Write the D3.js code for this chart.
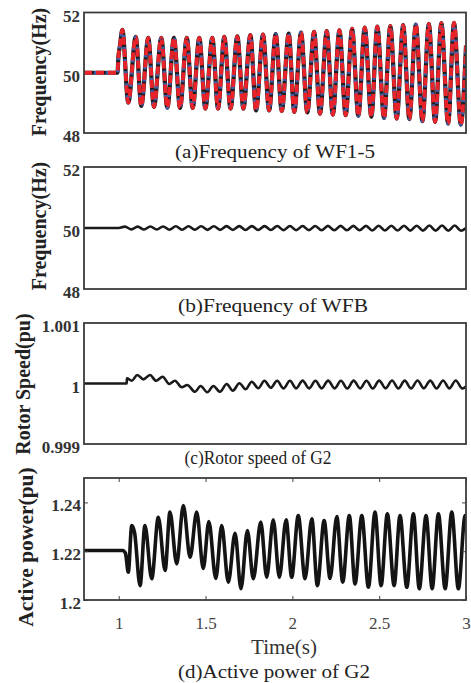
<!DOCTYPE html>
<html><head><meta charset="utf-8">
<script src="https://cdn.jsdelivr.net/npm/d3@7"></script>
<style>html,body{margin:0;padding:0;background:#fff;} svg{display:block;}</style>
</head><body>
<svg id="chart" width="471" height="683"></svg>
<script>
// ---------------- DATA ----------------
// (a) Frequency of WF1-5 (Hz) — extrema
const wfTime = [0.8, 0.993, 0.998, 1.007, 1.021, 1.055, 1.098, 1.130, 1.170, 1.203, 1.245, 1.280, 1.318, 1.353, 1.392, 1.426, 1.464, 1.499, 1.539, 1.572, 1.608, 1.644, 1.683, 1.718, 1.758, 1.791, 1.831, 1.866, 1.904, 1.939, 1.979, 2.011, 2.050, 2.086, 2.125, 2.159, 2.198, 2.233, 2.271, 2.307, 2.344, 2.380, 2.417, 2.455, 2.489, 2.528, 2.564, 2.601, 2.638, 2.674, 2.711, 2.749, 2.786, 2.822, 2.858, 2.897, 2.931, 2.970, 3.0];
const wfFreq = [50, 50, 50.5, 50.9, 51.42, 49.01, 51.19, 48.90, 51.16, 48.87, 51.16, 48.84, 51.16, 48.83, 51.16, 48.83, 51.16, 48.81, 51.16, 48.81, 51.19, 48.81, 51.21, 48.81, 51.25, 48.75, 51.27, 48.75, 51.28, 48.73, 51.30, 48.70, 51.33, 48.68, 51.36, 48.64, 51.38, 48.61, 51.41, 48.59, 51.46, 48.57, 51.50, 48.54, 51.53, 48.50, 51.55, 48.48, 51.58, 48.46, 51.60, 48.39, 51.62, 48.37, 51.65, 48.31, 51.66, 48.28, 50.9];

// (b) Frequency of WFB (Hz)
const wfbTime = [0.8, 1.0, 1.036, 1.073, 1.109, 1.146, 1.182, 1.219, 1.255, 1.292, 1.329, 1.365, 1.402, 1.438, 1.475, 1.511, 1.548, 1.584, 1.621, 1.657, 1.694, 1.730, 1.767, 1.803, 1.840, 1.876, 1.913, 1.949, 1.986, 2.022, 2.059, 2.095, 2.132, 2.168, 2.205, 2.241, 2.278, 2.314, 2.351, 2.387, 2.424, 2.460, 2.497, 2.533, 2.570, 2.606, 2.643, 2.679, 2.716, 2.752, 2.789, 2.825, 2.862, 2.898, 2.935, 2.971, 3.0];
const wfbFreq = [50, 50, 50.045, 49.955, 50.045, 49.95, 50.05, 49.95, 50.05, 49.945, 50.055, 49.945, 50.055, 49.945, 50.055, 49.94, 50.055, 49.94, 50.06, 49.94, 50.06, 49.935, 50.06, 49.935, 50.06, 49.935, 50.065, 49.93, 50.065, 49.93, 50.065, 49.93, 50.065, 49.925, 50.07, 49.925, 50.07, 49.925, 50.07, 49.925, 50.07, 49.92, 50.075, 49.92, 50.075, 49.92, 50.075, 49.915, 50.075, 49.915, 50.08, 49.915, 50.08, 49.91, 50.08, 49.91, 50.0];

// (c) Rotor speed of G2 (pu)
const g2Time = [0.8, 1.046, 1.047, 1.075, 1.107, 1.142, 1.180, 1.215, 1.253, 1.291, 1.324, 1.363, 1.395, 1.439, 1.472, 1.510, 1.545, 1.583, 1.622, 1.657, 1.695, 1.731, 1.766, 1.804, 1.839, 1.876, 1.912, 1.949, 1.986, 2.022, 2.059, 2.096, 2.133, 2.169, 2.206, 2.243, 2.280, 2.316, 2.353, 2.390, 2.427, 2.463, 2.500, 2.537, 2.574, 2.610, 2.647, 2.684, 2.721, 2.757, 2.794, 2.831, 2.868, 2.904, 2.941, 2.978, 3.0];
const g2Speed = [1.0, 1.0, 1.000086, 1.000046, 1.00014, 1.000069, 1.00014, 1.000046, 1.000112, 0.999992, 1.000046, 0.999937, 0.999975, 0.999864, 0.999959, 0.999855, 0.999959, 0.999864, 0.999992, 0.999881, 1.000003, 0.999904, 1.00003, 0.999921, 1.000046, 0.99993, 1.000046, 0.99992, 1.000046, 0.99992, 1.000048, 0.99992, 1.000046, 0.99992, 1.000048, 0.99992, 1.000046, 0.999918, 1.000048, 0.99992, 1.000046, 0.999918, 1.000048, 0.99992, 1.00005, 0.999918, 1.000048, 0.999918, 1.00005, 0.99992, 1.000048, 0.999918, 1.00005, 0.999918, 1.00005, 0.999918, 0.99995];

// (d) Active power of G2 (pu)
const pTime = [0.8, 1.023, 1.039, 1.055, 1.075, 1.091, 1.123, 1.151, 1.190, 1.228, 1.267, 1.295, 1.334, 1.372, 1.411, 1.449, 1.487, 1.519, 1.559, 1.593, 1.631, 1.670, 1.704, 1.741, 1.775, 1.818, 1.852, 1.890, 1.925, 1.964, 1.996, 2.034, 2.073, 2.112, 2.144, 2.183, 2.217, 2.256, 2.290, 2.328, 2.361, 2.400, 2.438, 2.476, 2.511, 2.547, 2.586, 2.620, 2.659, 2.697, 2.731, 2.770, 2.805, 2.841, 2.880, 2.918, 2.956, 2.995, 3.0];
const pPower = [1.2203, 1.2203, 1.2191, 1.2114, 1.2305, 1.2277, 1.2059, 1.2305, 1.2087, 1.2339, 1.2121, 1.2360, 1.2148, 1.2387, 1.2175, 1.2360, 1.2129, 1.2322, 1.2088, 1.2305, 1.2073, 1.2273, 1.2046, 1.2285, 1.2087, 1.2319, 1.2093, 1.2329, 1.2093, 1.2329, 1.2093, 1.2346, 1.2087, 1.2333, 1.2059, 1.2326, 1.2088, 1.2342, 1.2073, 1.2346, 1.2066, 1.2346, 1.2052, 1.2360, 1.2059, 1.2353, 1.2059, 1.2346, 1.2052, 1.2353, 1.2046, 1.2346, 1.2046, 1.2353, 1.2046, 1.2360, 1.2046, 1.2346, 1.2335];

// ticks & labels
const xTickValues = [1, 1.5, 2, 2.5, 3];
const xTickLabels = ['1', '1.5', '2', '2.5', '3'];
const aTicks = [52, 50, 48], aTickLabels = ['52', '50', '48'];
const bTicks = [52, 50, 48], bTickLabels = ['52', '50', '48'];
const cTicks = [1.001, 1, 0.999], cTickLabels = ['1.001', '1', '0.999'];
const dTicks = [1.24, 1.22, 1.2], dTickLabels = ['1.24', '1.22', '1.2'];
const yTitles = ['Frequency(Hz)', 'Frequency(Hz)', 'Rotor Speed(pu)', 'Active power(pu)'];
const captions = ['(a)Frequency of WF1-5', '(b)Frequency of WFB', '(c)Rotor speed of G2', '(d)Active power of G2'];
const xTitle = 'Time(s)';

// ---------------- DRAW ----------------
const svg = d3.select('#chart');
const SERIF = "'Liberation Serif','Times New Roman',serif";
const X0 = 84, X1 = 466;
const x = d3.scaleLinear().domain([0.8, 3]).range([X0, X1]);

const panels = [
  {top: 12.5, bottom: 133, dom: [48, 52], ticks: aTicks, labels: aTickLabels, tx: 46, ty: 72, tfs: 20, cap: 157.5, capX: 275, capW: 200},
  {top: 167, bottom: 289, dom: [48, 52], ticks: bTicks, labels: bTickLabels, tx: 46, ty: 226, tfs: 20, cap: 312, capX: 273, capW: 190},
  {top: 323, bottom: 444, dom: [0.999, 1.001], ticks: cTicks, labels: cTickLabels, tx: 30, ty: 384, tfs: 20, cap: 463.5, capX: 258, capW: 147},
  {top: 478, bottom: 600, dom: [1.2, 1.25], ticks: dTicks, labels: dTickLabels, tx: 33, ty: 547, tfs: 21.5, cap: 678, capX: 274, capW: 192}
];
panels.forEach((p, i) => {
  p.y = d3.scaleLinear().domain(p.dom).range([p.bottom, p.top]);
  svg.append('clipPath').attr('id', 'clip' + i).append('rect')
    .attr('x', X0).attr('y', p.top).attr('width', X1 - X0).attr('height', p.bottom - p.top);
});

function lineFor(p, xs, ys) {
  return d3.line().x((d, k) => x(xs[k])).y((d, k) => p.y(ys[k])).curve(d3.curveMonotoneX)(xs);
}

// (a) three overlapping series
const pa = panels[0];
const ga = svg.append('g').attr('clip-path', 'url(#clip0)');
ga.append('path').attr('d', lineFor(pa, wfTime, wfFreq)).attr('fill', 'none')
  .attr('stroke', '#1c1c1c').attr('stroke-width', 4.2).attr('stroke-linejoin', 'round');
ga.append('path').attr('d', lineFor(pa, wfTime, wfFreq)).attr('fill', 'none')
  .attr('stroke', '#3e5fae').attr('stroke-width', 3.4).attr('stroke-dasharray', '3,9').attr('stroke-dashoffset', 2);
ga.append('path').attr('d', lineFor(pa, wfTime, wfFreq)).attr('fill', 'none')
  .attr('stroke', '#e8232a').attr('stroke-width', 3.8).attr('stroke-dasharray', '8,4');

// (b)
svg.append('g').attr('clip-path', 'url(#clip1)').append('path')
  .attr('d', lineFor(panels[1], wfbTime, wfbFreq)).attr('fill', 'none')
  .attr('stroke', '#1a1a1a').attr('stroke-width', 2.6);
// (c)
svg.append('g').attr('clip-path', 'url(#clip2)').append('path')
  .attr('d', lineFor(panels[2], g2Time, g2Speed)).attr('fill', 'none')
  .attr('stroke', '#1a1a1a').attr('stroke-width', 2.6);
// (d)
svg.append('g').attr('clip-path', 'url(#clip3)').append('path')
  .attr('d', lineFor(panels[3], pTime, pPower)).attr('fill', 'none')
  .attr('stroke', '#141414').attr('stroke-width', 3.6).attr('stroke-linejoin', 'round');

// axes, frames, texts
panels.forEach((p, i) => {
  const isD = i === 3;
  const yAxis = d3.axisLeft(p.y).tickValues(p.ticks)
    .tickFormat((d, k) => p.labels[k])
    .tickSizeInner(isD ? -4 : 0).tickSizeOuter(0).tickPadding(isD ? 3 : 4);
  const gy = svg.append('g').attr('transform', `translate(${X0},0)`).call(yAxis);
  gy.select('.domain').remove();
  gy.selectAll('line').attr('stroke', '#444');
  gy.selectAll('text').attr('font-family', SERIF).attr('font-weight', 'bold')
    .attr('font-size', 17).attr('fill', '#333').attr('dy', '0.5em');
  if (isD) {
    const gr = svg.append('g').attr('transform', `translate(${X1},0)`)
      .call(d3.axisRight(p.y).tickValues(p.ticks).tickSizeInner(-4).tickSizeOuter(0).tickFormat(''));
    gr.select('.domain').remove(); gr.selectAll('line').attr('stroke', '#444');
    const gt = svg.append('g').attr('transform', `translate(0,${p.top})`)
      .call(d3.axisTop(x).tickValues(xTickValues).tickSizeInner(-4).tickSizeOuter(0).tickFormat(''));
    gt.select('.domain').remove(); gt.selectAll('line').attr('stroke', '#444');
    const gb = svg.append('g').attr('transform', `translate(0,${p.bottom})`)
      .call(d3.axisBottom(x).tickValues(xTickValues).tickSizeInner(-4).tickSizeOuter(0).tickPadding(17)
        .tickFormat((d, k) => xTickLabels[k]));
    gb.select('.domain').remove(); gb.selectAll('line').attr('stroke', '#444');
    gb.selectAll('text').attr('font-family', SERIF).attr('font-size', 17).attr('fill', '#444');
    svg.append('text').attr('x', 284).attr('y', 654).attr('text-anchor', 'middle')
      .attr('font-family', SERIF).attr('font-size', 20).attr('fill', '#333')
      .attr('textLength', 66).attr('lengthAdjust', 'spacingAndGlyphs').text(xTitle);
  }
  svg.append('rect').attr('x', X0).attr('y', p.top).attr('width', X1 - X0).attr('height', p.bottom - p.top)
    .attr('fill', 'none').attr('stroke', '#3c3c3c').attr('stroke-width', 1.8);
  svg.append('text').attr('transform', `translate(${p.tx},${p.ty}) rotate(-90)`)
    .attr('text-anchor', 'middle').attr('font-family', SERIF).attr('font-weight', 'bold')
    .attr('font-size', p.tfs).attr('fill', '#222').text(yTitles[i]);
  svg.append('text').attr('x', p.capX).attr('y', p.cap).attr('text-anchor', 'middle')
    .attr('font-family', SERIF).attr('font-size', 19).attr('fill', '#222')
    .attr('textLength', p.capW).attr('lengthAdjust', 'spacingAndGlyphs').text(captions[i]);
});
</script>
</body></html>
